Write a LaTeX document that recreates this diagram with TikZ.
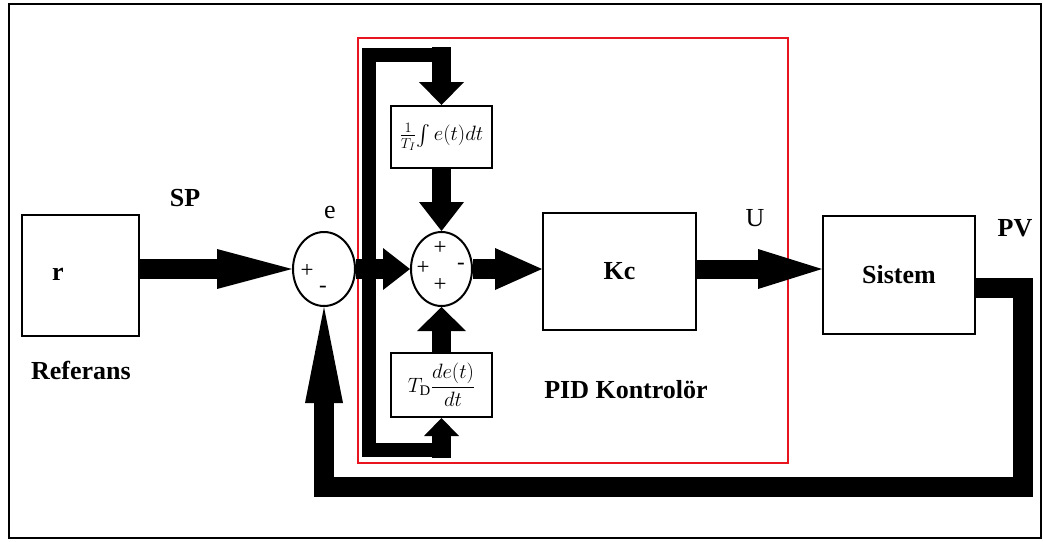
\documentclass[tikz,border=0pt]{standalone}
\usepackage{amsmath}
\usepackage{fontspec}
\setmainfont{Liberation Serif}
\usetikzlibrary{arrows.meta,positioning,calc,shapes.geometric}
\definecolor{pidred}{HTML}{E8141E}
\tikzset{
  blk/.style={draw=black, fill=white, line width=2pt, inner sep=0pt},
  sumnode/.style={ellipse, draw=black, fill=white, line width=2pt, inner sep=0pt,
                  minimum width=62pt, minimum height=74pt},
  tag/.style={font=\fontsize{26}{30}\selectfont\bfseries},
  plaintag/.style={font=\fontsize{26}{30}\selectfont},
  sign/.style={font=\fontsize{23}{25}\selectfont, inner sep=0pt},
  formula/.style={font=\fontsize{21}{25}\selectfont},
  pipe/.style={draw=black, line width=#1},
  head/.style 2 args={-{Triangle[length=#1,width=#2,line width=0pt]}}
}

\begin{document}
\begin{tikzpicture}[x=1pt,y=-1pt]
        \useasboundingbox (0,0) rectangle (1043,541);
        \draw[line width=2pt] (9,4) rectangle (1041,538);
        \draw[pidred,line width=2pt] (358,38) rectangle (788,463);

        \node[blk,minimum width=117pt,minimum height=121pt] (ref) at (80.5,275) {};
        \node[tag] (rtxt) at (58,274) {r};
        \node[sumnode] (sum1) at (324,269) {};
        \node[sumnode,minimum width=61pt] (sum2) at (441.5,269) {};
        \node[blk,formula,minimum width=101pt,minimum height=62pt] (integ) at (441.5,137)
          {$\frac{1}{T_I}\!\int e(t)dt$};
        \node[blk,formula,minimum width=101pt,minimum height=64pt] (deriv) at (441.5,385)
          {$T_{\mathrm{D}}\dfrac{de(t)}{dt}$};
        \node[blk,tag,minimum width=153pt,minimum height=117pt] (kc) at (619.5,271.5) {Kc};
        \node[blk,tag,minimum width=152pt,minimum height=118pt] (sistem) at (899,275) {Sistem};

        \foreach \x/\y/\s in {307/271/+,323/289/-,440/248/+,423/268/+,461/266/-,440/285/+}
          {\node[sign] at (\x,\y) {\s};}

        \node[tag] (sp) at (185,198) {SP};
        \node[plaintag] (etxt) at (330,212) {e};
        \node[plaintag] (utxt) at (755,218) {U};
        \node[tag] (pv) at (1015,228) {PV};
        \node[tag] (referans) at (81,370) {Referans};
        \node[tag] (pidlbl) at (626,390) {PID Kontrolör};

        \coordinate (tap) at (368.5,269);
        \draw[pipe=20pt,head={75pt}{40pt}] (ref.east |- sum1.west) -- (sum1.west);
        \draw[pipe=20pt,head={27pt}{42pt}] (sum1.east) -- (sum2.west);
        \draw[pipe=14pt] (tap) -- (368.5,55) -- (442,55);
        \draw[pipe=14pt] (tap) -- (368.5,450) -- (442,450);
        \draw[pipe=19pt,head={23pt}{45pt}] ([yshift=58pt]integ.north) -- (integ.north);
        \draw[pipe=19pt,head={18pt}{35pt}] ([yshift=-40pt]deriv.south) -- (deriv.south);
        \draw[pipe=19pt,head={29pt}{45pt}] (integ.south) -- (sum2.north);
        \draw[pipe=19pt,head={24pt}{49pt}] (deriv.north) -- (sum2.south);
        \draw[pipe=20pt,head={47pt}{42pt}] (sum2.east) -- (kc.west |- sum2.east);
        \draw[pipe=19pt,head={64pt}{40pt}] (kc.east |- sum2.east) -- (sistem.west |- sum2.east);
        \draw[pipe=20pt,head={96pt}{38pt}] ([yshift=-13pt]sistem.east) -| (1023,487) -| (sum1.south);
      \end{tikzpicture}
\end{document}
